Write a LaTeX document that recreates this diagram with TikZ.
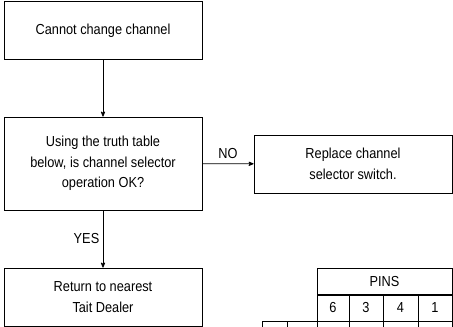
\documentclass[tikz,border=0pt]{standalone}
\usepackage{fontspec}
\setmainfont[FakeStretch=0.88]{Liberation Sans}
\usetikzlibrary{arrows}
\usetikzlibrary{calc}

\begin{document}
\begin{tikzpicture}[>=stealth',x=1pt,y=-1pt,line width=0.8pt,
      font=\fontsize{14.5}{20.5}\selectfont,
      step box/.style={draw,minimum width=198pt,align=center,inner sep=0pt},
      pin cell/.style={draw,minimum height=26pt,inner sep=0pt}]
    \useasboundingbox (0,0) rectangle (453,327);
    \clip (0,0) rectangle (453,327);
    \node[step box,minimum height=58pt] (fault) at (103,30.5) {Cannot change channel};
    \node[step box,minimum height=93pt] (check) at (103,163.5)
         {Using the truth table\\below, is channel selector\\operation OK?};
    \node[step box,minimum height=58pt] (swap) at (353,164)
         {Replace channel\\selector switch.};
    \node[step box,minimum height=58pt] (dealer) at (103,297)
         {Return to nearest\\Tait Dealer};
    \path[every node/.style={font=\fontsize{14.5}{16}\selectfont}]
         (fault) edge [->] (check)
         (check) edge [->] node [above,yshift=1pt] {NO} (swap)
                 edge [->] node [left] {YES} (dealer);
    % truth table, cut off at the bottom edge
    \node[pin cell,minimum width=135pt] (pins) at (384.5,281.5) {PINS};
    \node[pin cell,minimum width=32pt] (p6) at (333,308) {6};
    \node[pin cell,minimum width=34pt] (p3) at (366,308) {3};
    \node[pin cell,minimum width=35pt] (p4) at (400.5,308) {4};
    \node[pin cell,minimum width=34pt] (p1) at (435,308) {1};
    \foreach \x/\w in {262/25,287/30,317/32,349/34,383/35,418/34}
      \draw (\x,321) rectangle ++(\w,20);
  \end{tikzpicture}
\end{document}
